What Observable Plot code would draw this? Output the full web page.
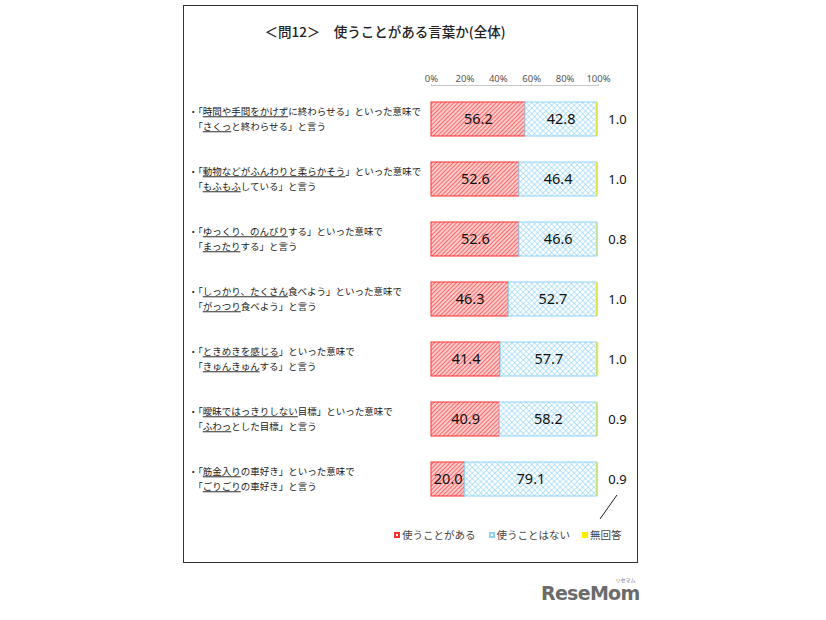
<!DOCTYPE html>
<html><head><meta charset="utf-8">
<script src="https://cdn.jsdelivr.net/npm/d3@7"></script>
<script src="https://cdn.jsdelivr.net/npm/@observablehq/plot@0.6"></script>
<style>
body{margin:0;background:#fff;}
#wrap{position:relative;width:826px;height:620px;overflow:hidden;font-family:"Noto Sans CJK JP",sans-serif;}
#box{position:absolute;left:183px;top:5px;width:453px;height:556px;border:1px solid #333;}
#title{position:absolute;left:183px;top:21px;width:404px;text-align:center;font-size:13.5px;font-weight:500;color:#222;}
#chart{position:absolute;left:0;top:0;}
#legend{position:absolute;left:394px;top:527px;font-size:10.5px;color:#444;display:flex;}
#legend span.it{display:inline-flex;align-items:center;}
#legend i{display:inline-block;width:6px;height:6px;margin-right:2px;box-sizing:border-box;}
#logo{position:absolute;left:541px;top:582px;font-family:"DejaVu Sans",sans-serif;font-weight:bold;font-size:19px;color:#6b6b6b;letter-spacing:-0.7px;}
#logo small{position:absolute;right:4px;top:-6px;font-size:5px;letter-spacing:0;font-family:"Noto Sans CJK JP";font-weight:normal;}
</style></head>
<body><div id="wrap">
<div id="box"></div>
<div id="title">＜問12＞　使うことがある言葉か(全体)</div>
<div id="chart"></div>
<div id="legend"></div>
<div id="logo">ReseMom<small>リセマム</small></div>
</div>
<script>
const series = ["使うことがある", "使うことはない", "無回答"];
const items = ["q1","q2","q3","q4","q5","q6","q7"];
const line1 = [
  "・「時間や手間をかけずに終わらせる」といった意味で",
  "・「動物などがふんわりと柔らかそう」といった意味で",
  "・「ゆっくり、のんびりする」といった意味で",
  "・「しっかり、たくさん食べよう」といった意味で",
  "・「ときめきを感じる」といった意味で",
  "・「曖昧ではっきりしない目標」といった意味で",
  "・「筋金入りの車好き」といった意味で"
];
const line2 = [
  "　「さくっと終わらせる」と言う",
  "　「もふもふしている」と言う",
  "　「まったりする」と言う",
  "　「がっつり食べよう」と言う",
  "　「きゅんきゅんする」と言う",
  "　「ふわっとした目標」と言う",
  "　「ごりごりの車好き」と言う"
];
const under1 = ["時間や手間をかけず","動物などがふんわりと柔らかそう","ゆっくり、のんびり","しっかり、たくさん","ときめきを感じる","曖昧ではっきりしない","筋金入り"];
const under2 = ["さくっ","もふもふ","まったり","がっつり","きゅんきゅん","ふわっ","ごりごり"];
const useVals  = [56.2, 52.6, 52.6, 46.3, 41.4, 40.9, 20.0];
const notVals  = [42.8, 46.4, 46.6, 52.7, 57.7, 58.2, 79.1];
const naVals   = [1.0, 1.0, 0.8, 1.0, 1.0, 0.9, 0.9];
const xTicks = [0, 20, 40, 60, 80, 100];

const fills = {"使うことがある":"url(#pRed)","使うことはない":"url(#pBlue)","無回答":"#ffec00"};
const strokes = {"使うことがある":"#ff3030","使うことはない":"#8fd3f7","無回答":"none"};

const rows = [];
items.forEach((it,i)=>{
  rows.push({item:it, series:series[0], value:useVals[i]});
  rows.push({item:it, series:series[1], value:notVals[i]});
  rows.push({item:it, series:series[2], value:naVals[i]});
});
const labelRows = items.map((it,i)=>({item:it, text: line1[i]+"\n"+line2[i]}));
const naRows = items.map((it,i)=>({item:it, value:naVals[i]}));

const defs = () => {
  const s = d3.create("svg:defs");
  const r = s.append("pattern").attr("id","pRed").attr("patternUnits","userSpaceOnUse").attr("width",3).attr("height",3).attr("patternTransform","rotate(45)");
  r.append("rect").attr("width",3).attr("height",3).attr("fill","#ffcccc");
  r.append("line").attr("x1",0).attr("y1",0).attr("x2",0).attr("y2",3).attr("stroke","#ff3d3d").attr("stroke-width",1.4);
  const b = s.append("pattern").attr("id","pBlue").attr("patternUnits","userSpaceOnUse").attr("width",4).attr("height",4).attr("patternTransform","rotate(45)");
  b.append("rect").attr("width",4).attr("height",4).attr("fill","#ffffff");
  b.append("line").attr("x1",0).attr("y1",0).attr("x2",0).attr("y2",4).attr("stroke","#8ed2f5").attr("stroke-width",1.2);
  b.append("line").attr("x1",0).attr("y1",0).attr("x2",4).attr("y2",0).attr("stroke","#8ed2f5").attr("stroke-width",1.2);
  return s.node();
};

const leader = (index, scales) => {
  const last = items[items.length-1];
  const bw = scales.y.bandwidth ? scales.y.bandwidth() : 34;
  const yb = scales.y(last) + bw;
  const xe = scales.x(100);
  return d3.create("svg:line").attr("x1", xe+19).attr("y1", yb-1).attr("x2", xe+2).attr("y2", yb+23)
    .attr("stroke","#222").attr("stroke-width",1).node();
};

const chart = Plot.plot({
  width: 826, height: 620,
  marginLeft: 431, marginRight: 228, marginTop: 85, marginBottom: 108,
  x: {domain: [0,100], axis: null, label: null},
  y: {domain: items, paddingInner: 0.44, paddingOuter: 0.23, axis: null, label: null},
  color: {type: "identity"},
  style: {background: "transparent", fontFamily: "'Noto Sans', sans-serif", overflow: "visible"},
  marks: [
    defs,
    Plot.axisX(xTicks, {anchor: "top", label: null, tickFormat: d => d + "%", tickSize: 2, tickPadding: 2, fontSize: 9.5, fill: "#555", stroke: "#c8c8c8"}),
    Plot.frame({anchor: "top", stroke: "#c8c8c8"}),
    Plot.barX(rows, Plot.stackX({x: "value", y: "item", fill: d => fills[d.series], stroke: d => strokes[d.series], strokeWidth: 1})),
    Plot.text(rows.filter(d => d.series !== "無回答"), Plot.stackX({x: "value", y: "item", text: d => d.value.toFixed(1), fontSize: 14.5, fontWeight: 400, fill: "#111"})),
    Plot.text(naRows, {y: "item", text: d => d.value.toFixed(1), frameAnchor: "right", textAnchor: "middle", dx: 19, fontSize: 13, fontWeight: 400, fill: "#111"}),
    Plot.text(labelRows, {y: "item", text: "text", frameAnchor: "left", textAnchor: "start", dx: -243, dy: -1.5, lineHeight: 1.58, fontSize: 9.5, fill: "#222", fontFamily: "'Noto Sans CJK JP', sans-serif"}),
    leader
  ]
});
document.getElementById("chart").append(chart);

// underline parts of label lines
chart.querySelectorAll("tspan").forEach(ts => {
  const t = ts.textContent;
  let u = null;
  const i1 = line1.indexOf(t), i2 = line2.indexOf(t);
  if (i1 >= 0) u = under1[i1]; else if (i2 >= 0) u = under2[i2];
  if (!u) return;
  const k = t.indexOf(u);
  if (k < 0) return;
  ts.textContent = "";
  const parts = [[t.slice(0,k),false],[u,true],[t.slice(k+u.length),false]];
  parts.forEach(([s,ul]) => {
    if (!s) return;
    const n = document.createElementNS("http://www.w3.org/2000/svg","tspan");
    n.textContent = s;
    if (ul) n.setAttribute("text-decoration","underline");
    ts.appendChild(n);
  });
});

// legend
const lg = d3.select("#legend");
const sw = [{b:"#ff3030",bg:"#fff",m:13},{b:"#8fd3f7",bg:"#fff",m:12},{b:"#ffec00",bg:"#ffec00",m:0}];
series.forEach((s,i)=>{
  const it = lg.append("span").attr("class","it").style("margin-right", sw[i].m + "px");
  it.append("i").style("border", `2px solid ${sw[i].b}`).style("background", sw[i].bg);
  it.append("span").text(s);
});
</script>
</body></html>
